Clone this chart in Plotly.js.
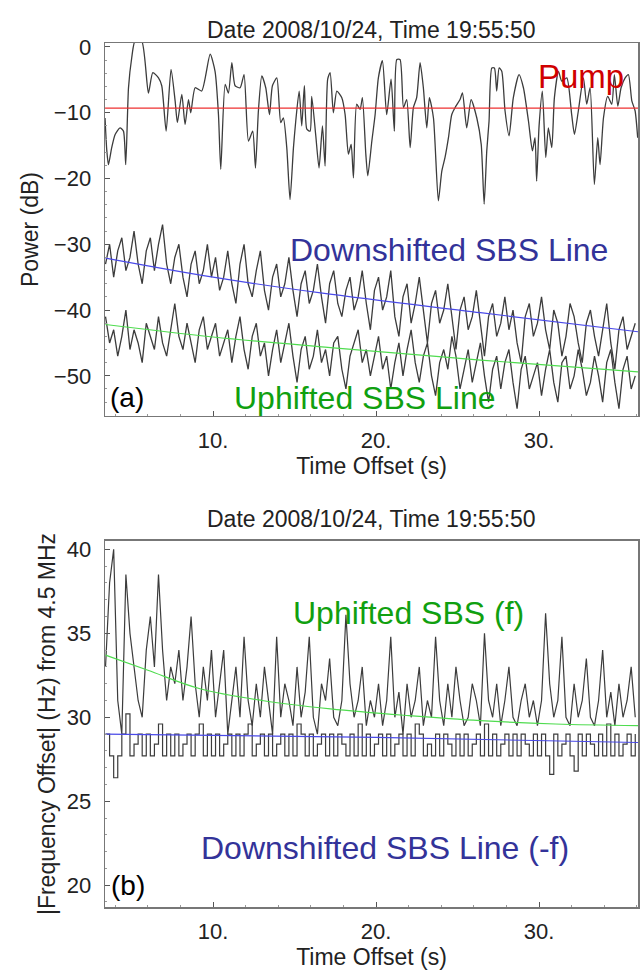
<!DOCTYPE html>
<html>
<head>
<meta charset="utf-8">
<script src="https://cdn.plot.ly/plotly-3.0.1.min.js"></script>
<style>html,body{margin:0;padding:0;background:#fff;}#chart{width:642px;height:973px;}</style>
</head>
<body>
<div id="chart"></div>
<script>
// ---------- Panel (a): power ----------
const pumpT = [3.37,3.48,3.58,3.78,3.99,4.29,4.50,4.64,4.81,5.01,5.21,5.62,6.03,6.30,6.65,6.85,7.12,7.42,7.67,7.81,8.08,8.28,8.49,8.63,8.90,9.30,9.82,10.12,10.33,10.47,10.74,10.94,11.15,11.35,11.66,11.90,12.17,12.43,12.60,12.78,12.99,13.23,13.46,13.64,13.91,14.15,
  14.31,14.52,14.72,14.93,15.07,15.28,15.44,15.60,15.75,15.95,16.05,16.30,16.50,16.71,16.87,17.03,17.18,17.38,17.59,17.89,18.10,18.30,18.47,18.61,18.81,19.02,19.16,19.37,19.49,19.74,19.94,20.14,20.39,20.65,20.92,21.12,21.27,21.47,21.68,21.88,22.09,22.29,22.49,22.70,22.90,23.11,23.27,23.52,23.82,24.03,24.23,24.44,24.64,24.85,25.15,
  25.30,25.56,25.83,26.18,26.45,26.63,26.79,26.93,27.10,27.26,27.40,27.55,27.71,27.91,28.16,28.42,28.77,29.04,29.35,29.59,29.75,29.85,30.00,30.20,30.41,30.57,30.78,30.94,31.19,31.39,31.70,32.00,32.17,32.41,32.72,32.92,33.13,33.39,33.60,33.74,33.95,34.21,34.46,34.62,34.83,35.03,35.28,35.48,35.69,35.89,36.05];
const pumpDb = [-10.8,-15.8,-17.9,-15.3,-13.3,-12.3,-12.8,-17.9,-6.2,-1.6,0.9,0.9,-7.0,-3.9,-4.7,-5.9,-12.8,-3.4,-8.2,-11.5,-7.2,-11.8,-8.0,-10.0,-6.2,-6.7,-1.1,-3.7,-10.3,-18.6,-5.7,-7.0,-2.4,-5.9,-6.2,-4.2,-14.3,-12.8,-18.4,-9.7,-4.4,-6.2,-10.3,-5.9,-4.7,-11.5,
  -10.8,-15.3,-23.2,-15.3,-11.3,-6.7,-12.0,-5.9,-12.5,-12.8,-7.5,-13.5,-18.4,-12.0,-18.1,-4.9,-3.9,-10.0,-6.7,-7.7,-10.3,-16.3,-14.8,-19.9,-8.7,-9.5,-7.7,-16.3,-19.6,-14.3,-10.3,-4.7,-2.1,-10.3,-4.9,-12.8,-1.9,-1.9,-9.2,-8.0,-15.3,-9.2,-7.7,-2.4,-6.2,-12.3,-7.7,-10.8,-23.4,-18.9,-16.8,-13.8,-10.3,-9.2,-8.0,
  -7.0,-12.3,-8.0,-10.8,-14.8,-23.9,-15.8,-11.3,-3.2,-3.2,-6.7,-3.2,-3.7,-9.7,-13.5,-7.7,-4.2,-6.2,-11.3,-15.8,-13.8,-20.4,-12.0,-6.7,-16.8,-12.3,-15.3,-7.7,-3.7,-5.2,-4.7,-10.3,-13.3,-9.7,-4.7,-8.7,-6.2,-20.9,-13.8,-17.9,-10.8,-7.5,-8.7,-4.2,-9.0,-6.2,-4.7,-4.2,-8.2,-9.7,-13.8];

// sampled every 0.25 s starting at 3.4 s
const sampleStart = 3.4;
const sampleStep = 0.25;
const downDb = [-33,-30,-35,-31,-29,-34,-32,-28,-33,-36,-31,-29,-34,-30,-27,-33,-36,-32,-30,-35,-38,-33,-31,-36,-34,-30,-35,
  -32,-37,-35,-31,-36,-39,-33,-30,-36,-38,-34,-31,-37,-40,-35,-33,-38,-36,-32,-37,-41,-36,-34,-39,-37,-33,-38,-42,-36,-34,-39,-41,-37,-35,-40,-38,-34,-39,-43,-37,
  -35,-40,-38,-34,-41,-44,-38,-36,-42,-39,-35,-40,-45,-39,-37,-42,-40,-36,-41,-46,-40,-38,-43,-41,-37,-42,-47,-41,-39,-44,-42,-38,-43,-40,-45,-48,-41,-39,-44,-42,
  -38,-43,-46,-40,-42,-47,-44,-39,-41,-45,-48,-42,-40,-44,-47,-43,-39,-45,-49,-43,-41,-46,-44,-42];
const upDb = [-41,-45,-43,-47,-44,-40,-46,-43,-45,-48,-42,-44,-46,-41,-45,-47,-43,-39,-44,-46,-42,-45,-48,-43,-41,-46,-44,
  -42,-47,-45,-43,-48,-44,-41,-46,-49,-44,-42,-47,-45,-50,-46,-43,-48,-45,-42,-47,-51,-46,-44,-49,-47,-43,-48,-46,-50,-45,-44,-49,-52,-47,-45,-43,-48,-46,-50,-47,
  -44,-49,-47,-52,-48,-45,-50,-46,-43,-48,-51,-47,-45,-50,-53,-48,-46,-49,-44,-47,-52,-49,-46,-51,-48,-45,-50,-54,-49,-47,-52,-48,-46,-51,-55,-49,-47,-52,-50,-48,
  -53,-49,-46,-51,-54,-48,-47,-52,-50,-46,-49,-53,-51,-47,-50,-54,-48,-46,-51,-55,-49,-47,-52,-50];

const pumpFitT = [3.37, 36.07];
const pumpFitDb = [-9.3, -9.3];
const downFitT = [3.4, 10, 16.6, 26.4, 36.07];
const downFitDb = [-32.1, -35.0, -37.4, -40.4, -43.3];
const upFitT = [3.4, 10, 17.2, 26.4, 36.07];
const upFitDb = [-42.2, -44.1, -45.7, -47.6, -49.4];

// ---------- Panel (b): frequency offset ----------
const upHz = [33,38,40,31,29,38.5,35,33,31,30,34,36,33,38.5,34,31,33,32,34,31,33,36,32,30,33,31,34,
  30,32,34,29,31,33,30,34.8,31,29.5,32,30,33,31,29,34.8,30,32,31,29.5,33,30,31.5,34.8,30,29,32,31,33.5,30,29.5,31,36.1,32,30,31,33,29.5,31,30,
  32,29.5,31,34.8,30,31.5,29,32,30,31,33,29.5,31,30,34.8,31,29.5,32,30,33,31,29.5,30,32,31,29.5,35,31,30,32,29.5,31,33,30,29.5,31,32,30,31,29.5,
  31,36.2,32,30,31,34.8,30,29.5,32,30,31,33.5,30,29.5,31,34,30,31.5,29.5,32,30,31,33,30];
const downHz = [29.0,27.7,26.4,27.7,29.0,30.2,27.7,28.4,29.0,27.7,29.0,27.7,28.4,29.6,27.7,29.0,27.7,29.0,27.7,28.4,29.0,27.7,29.0,29.6,27.7,29.0,27.7,
  29.0,27.7,28.4,29.0,27.7,29.0,27.7,29.0,29.6,27.7,28.4,29.0,27.7,29.0,27.7,28.4,29.0,27.7,29.0,27.7,29.6,29.0,27.7,29.0,27.7,28.4,29.0,27.7,29.0,27.7,29.0,28.4,27.7,29.0,27.7,29.6,27.7,29.0,27.7,28.4,
  29.0,27.7,29.0,27.7,28.4,29.0,27.7,29.0,27.7,29.6,29.0,27.7,28.4,27.7,29.0,27.7,29.0,28.4,27.7,29.0,27.7,29.0,27.7,28.4,29.0,27.7,29.6,27.7,29.0,27.7,28.4,29.0,27.7,29.0,27.7,29.0,28.4,27.7,29.0,27.7,
  29.0,27.7,26.6,29.0,27.7,28.4,29.0,27.7,26.8,29.0,27.7,29.0,28.4,27.7,29.0,27.7,29.6,27.7,29.0,27.7,28.4,29.0,27.7,29.0];
const upHzFitT = [3.4, 6, 9.2, 13, 17.2, 22, 26.4, 31, 36.07];
const upHzFit = [33.7, 32.8, 31.7, 31.0, 30.5, 30.1, 29.8, 29.6, 29.5];
const downHzFitT = [3.4, 20, 36.07];
const downHzFit = [29.0, 28.8, 28.5];

const xTickVals = [10, 20, 30];
const xTickText = ["10.", "20.", "30."];
const titleText = "Date 2008/10/24, Time 19:55:50";

const FONT = "Liberation Sans, Arial, sans-serif";
const dataLine = {color: "#3c3c3c", width: 1.3};
const RED = "#ee3030", BLUE = "#4a4ae8", GREEN = "#4fdc4f";

const traces = [
  {x: pumpT, y: pumpDb, mode: "lines", line: {color: "#3c3c3c", width: 1.3, shape: "spline", smoothing: 0.6}, xaxis: "x", yaxis: "y"},
  {x0: sampleStart, dx: sampleStep, y: downDb, mode: "lines", line: dataLine, xaxis: "x", yaxis: "y"},
  {x0: sampleStart, dx: sampleStep, y: upDb, mode: "lines", line: dataLine, xaxis: "x", yaxis: "y"},
  {x: pumpFitT, y: pumpFitDb, mode: "lines", line: {color: RED, width: 1.2}, xaxis: "x", yaxis: "y"},
  {x: downFitT, y: downFitDb, mode: "lines", line: {color: BLUE, width: 1.2, shape: "spline"}, xaxis: "x", yaxis: "y"},
  {x: upFitT, y: upFitDb, mode: "lines", line: {color: GREEN, width: 1.2, shape: "spline"}, xaxis: "x", yaxis: "y"},
  {x0: sampleStart, dx: sampleStep, y: upHz, mode: "lines", line: {color: "#3c3c3c", width: 1.2}, xaxis: "x2", yaxis: "y2"},
  {x0: sampleStart, dx: sampleStep, y: downHz, mode: "lines", line: {color: "#3c3c3c", width: 1.2, shape: "hv"}, xaxis: "x2", yaxis: "y2"},
  {x: upHzFitT, y: upHzFit, mode: "lines", line: {color: GREEN, width: 1.2, shape: "spline"}, xaxis: "x2", yaxis: "y2"},
  {x: downHzFitT, y: downHzFit, mode: "lines", line: {color: BLUE, width: 1.2, shape: "spline"}, xaxis: "x2", yaxis: "y2"}
];

const axisCommon = {
  showline: true, mirror: true, linecolor: "#777", linewidth: 1.5,
  ticks: "inside", ticklen: 5, tickcolor: "#555", showgrid: false, zeroline: false,
  tickfont: {family: FONT, size: 22, color: "#222"}
};
const xCommon = Object.assign({}, axisCommon, {
  range: [3.37, 36.07], tickmode: "array", tickvals: xTickVals, ticktext: xTickText,
  ticklabelstandoff: 4,
  minor: {ticks: "inside", ticklen: 2, dtick: 2, tickcolor: "#999"}
});

const layout = {
  width: 642, height: 973, margin: {l: 0, r: 0, t: 0, b: 0},
  paper_bgcolor: "#fff", plot_bgcolor: "#fff", showlegend: false,
  font: {family: FONT, color: "#222"},
  xaxis: Object.assign({}, xCommon, {domain: [0.1636, 0.9938], anchor: "y",
    title: {text: "Time Offset (s)", font: {family: FONT, size: 23, color: "#222"}, standoff: 3}}),
  yaxis: Object.assign({}, axisCommon, {domain: [0.5725, 0.9558], anchor: "x",
    range: [-56.1, 0.6], tick0: 0, dtick: 10, ticklabelstandoff: 8,
    minor: {ticks: "inside", ticklen: 2, dtick: 2, tickcolor: "#999"},
    title: {text: "Power (dB)", font: {family: FONT, size: 23, color: "#222"}, standoff: 8}}),
  xaxis2: Object.assign({}, xCommon, {domain: [0.1636, 0.9938], anchor: "y2",
    title: {text: "Time Offset (s)", font: {family: FONT, size: 23, color: "#222"}, standoff: 3}}),
  yaxis2: Object.assign({}, axisCommon, {domain: [0.0678, 0.4440], anchor: "x2",
    range: [18.7, 40.5], tick0: 0, dtick: 5, ticklabelstandoff: 8,
    minor: {ticks: "inside", ticklen: 2, dtick: 1, tickcolor: "#999"},
    title: {text: "|Frequency Offset| (Hz) from 4.5 MHz", font: {family: FONT, size: 23, color: "#222"}, standoff: 4}}),
  annotations: [
    {xref: "paper", yref: "paper", x: 0.5787, y: 1 - 15/973, text: titleText, showarrow: false,
      font: {family: FONT, size: 23, color: "#222"}},
    {xref: "paper", yref: "paper", x: 0.5787, y: 1 - 519/973, text: titleText, showarrow: false,
      font: {family: FONT, size: 23, color: "#222"}},
    {xref: "x", yref: "y", x: 32.6, y: -4.5, text: "Pump", showarrow: false,
      font: {family: FONT, size: 33, color: "#d00000"}},
    {xref: "x", yref: "y", x: 24.5, y: -30.8, text: "Downshifted SBS Line", showarrow: false,
      font: {family: FONT, size: 32, color: "#333399"}},
    {xref: "x", yref: "y", x: 19.3, y: -53.3, text: "Uphifted SBS Line", showarrow: false,
      font: {family: FONT, size: 32, color: "#10a010"}},
    {xref: "x", yref: "y", x: 4.72, y: -53.3, text: "(a)", showarrow: false,
      font: {family: FONT, size: 28, color: "#000"}},
    {xref: "x2", yref: "y2", x: 22.0, y: 36.2, text: "Uphifted SBS (f)", showarrow: false,
      font: {family: FONT, size: 32, color: "#10a010"}},
    {xref: "x2", yref: "y2", x: 20.55, y: 22.2, text: "Downshifted SBS Line (-f)", showarrow: false,
      font: {family: FONT, size: 32, color: "#333399"}},
    {xref: "x2", yref: "y2", x: 4.75, y: 20.0, text: "(b)", showarrow: false,
      font: {family: FONT, size: 28, color: "#000"}}
  ]
};

Plotly.newPlot("chart", traces, layout, {staticPlot: true, displayModeBar: false});
</script>
</body>
</html>
